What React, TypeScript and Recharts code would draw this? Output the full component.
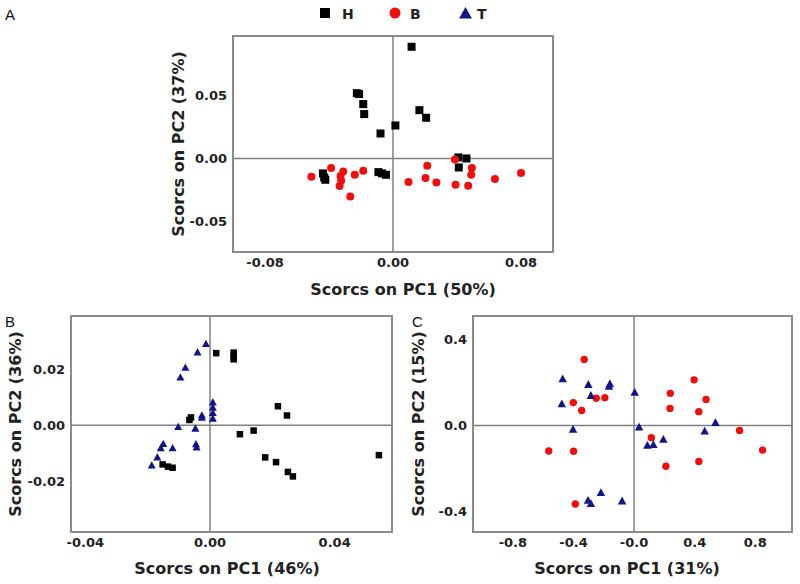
import React from "react";
import { ReferenceArea, ReferenceLine, Scatter, ScatterChart, XAxis, YAxis } from "recharts";

// legend groups
const groups = ["H", "B", "T"];

// panel A: PC1 / PC2 scores, H and B
const aH_pc1 = [0.0116, -0.0226, -0.0212, -0.0186, -0.018, 0.0165, 0.0207, 0.0015, -0.0078, 0.0408, 0.0459, 0.0411, -0.0438, -0.043, -0.0423, -0.0091, -0.0068, -0.0044];
const aH_pc2 = [0.0881, 0.0515, 0.0508, 0.0429, 0.035, 0.0381, 0.0321, 0.026, 0.0197, 0.0008, 0, -0.0071, -0.0118, -0.015, -0.0168, -0.0108, -0.0118, -0.0129];
const aB_pc1 = [-0.051, -0.0387, -0.0328, -0.0311, -0.0324, -0.0334, -0.0267, -0.0239, -0.0186, 0.0097, 0.0203, 0.0214, 0.0271, 0.0387, 0.0391, 0.047, 0.0493, 0.0489, 0.0637, 0.08];
const aB_pc2 = [-0.0144, -0.0076, -0.0139, -0.0102, -0.0176, -0.0217, -0.0301, -0.0128, -0.0097, -0.0186, -0.0155, -0.0058, -0.0189, -0.0008, -0.0207, -0.0215, -0.0076, -0.0128, -0.0162, -0.0115];

// panel B: H and T
const bT_pc1 = [-0.0013, -0.004, -0.0079, -0.0095, 0.0009, 0.0009, 0.0009, 0.0009, -0.0026, -0.0026, -0.0102, -0.0047, -0.0045, -0.0043, -0.015, -0.0158, -0.012, -0.0169, -0.0187];
const bT_pc2 = [0.0292, 0.0262, 0.0207, 0.0172, 0.0083, 0.0064, 0.0045, 0.0025, 0.0036, 0.0028, -0.0005, -0.0011, -0.0067, -0.0078, -0.0066, -0.0081, -0.0081, -0.0114, -0.0143];
const bH_pc1 = [0.002, 0.0076, 0.0076, 0.0076, 0.0218, 0.0247, -0.0066, -0.0061, 0.0096, 0.014, 0.0177, 0.0212, 0.025, 0.0266, 0.0542, -0.0152, -0.0135, -0.012];
const bH_pc2 = [0.0258, 0.026, 0.0248, 0.0236, 0.0068, 0.0035, 0.0019, 0.0028, -0.0032, -0.0019, -0.0115, -0.0132, -0.0167, -0.0183, -0.0107, -0.014, -0.0148, -0.0152];

// panel C: B and T
const cB_pc1 = [-0.329, -0.401, -0.346, -0.25, -0.193, -0.563, -0.399, -0.388, 0.114, 0.21, 0.239, 0.237, 0.396, 0.475, 0.427, 0.427, 0.696, 0.848];
const cB_pc2 = [0.308, 0.107, 0.07, 0.127, 0.13, -0.118, -0.119, -0.365, -0.056, -0.189, 0.15, 0.08, 0.213, 0.122, 0.065, -0.167, -0.023, -0.114];
const cT_pc1 = [-0.471, -0.302, -0.16, -0.166, -0.285, -0.477, 0.004, -0.403, 0.033, 0.088, 0.127, 0.193, 0.466, 0.537, -0.219, -0.304, -0.285, -0.079];
const cT_pc2 = [0.218, 0.192, 0.195, 0.183, 0.141, 0.102, 0.155, -0.017, -0.006, -0.091, -0.088, -0.063, -0.025, 0.015, -0.311, -0.347, -0.362, -0.35];

// ticks
const aXTicks = [-0.08, 0, 0.08];
const aXLabels = ["-0.08", "0.00", "0.08"];
const aYTicks = [-0.05, 0, 0.05];
const aYLabels = ["-0.05", "0.00", "0.05"];
const bXTicks = [-0.04, 0, 0.04];
const bXLabels = ["-0.04", "0.00", "0.04"];
const bYTicks = [-0.02, 0, 0.02];
const bYLabels = ["-0.02", "0.00", "0.02"];
const cXTicks = [-0.8, -0.4, 0, 0.4, 0.8];
const cXLabels = ["-0.8", "-0.4", "-0.0", "0.4", "0.8"];
const cYTicks = [-0.4, 0, 0.4];
const cYLabels = ["-0.4", "0.0", "0.4"];

const toPoints = (xs: number[], ys: number[]) => xs.map((x, i) => ({ x, y: ys[i] }));

const FONT = "'DejaVu Sans', sans-serif";
const BORDER = "#8c8c8c";
const RED = "#f20d0d";
const NAVY = "#14148a";

const square = (s: number) => (p: any) => (
  <rect x={p.cx - s / 2} y={p.cy - s / 2} width={s} height={s} fill="#000" />
);
const dot = (r: number) => (p: any) => <circle cx={p.cx} cy={p.cy} r={r} fill={RED} />;
const tri = (s: number) => (p: any) => (
  <polygon
    points={`${p.cx - s / 2},${p.cy + s * 0.42} ${p.cx + s / 2},${p.cy + s * 0.42} ${p.cx},${p.cy - s * 0.5}`}
    fill={NAVY}
  />
);

const Panel = ({
  left, top, width, height, plotTop, yw, xh,
  xDomain, yDomain, xTicks, xLabels, yTicks, yLabels,
  xTitle, yTitle, xTitleAt, yTitleX, series,
}: any) => (
  <div style={{ position: "absolute", left, top }}>
    <ScatterChart width={width} height={height} margin={{ top: plotTop, right: 5, left: 0, bottom: 0 }}>
      <XAxis
        type="number"
        dataKey="x"
        domain={xDomain}
        ticks={xTicks}
        allowDataOverflow
        axisLine={false}
        tickLine={false}
        tickSize={4}
        tickMargin={2}
        height={xh}
        tickFormatter={(v: number) => xLabels[xTicks.indexOf(v)] ?? ""}
        tick={{ fontFamily: FONT, fontWeight: "bold", fontSize: 13, fill: "#222" }}
        label={() => (
          <text
            x={xTitleAt[0] - left}
            y={xTitleAt[1] - top}
            textAnchor="middle"
            dominantBaseline="central"
            fontFamily={FONT}
            fontWeight="bold"
            fontSize={16}
            fill="#222"
          >
            {xTitle}
          </text>
        )}
      />
      <YAxis
        type="number"
        dataKey="y"
        domain={yDomain}
        ticks={yTicks}
        allowDataOverflow
        axisLine={false}
        tickLine={false}
        tickSize={3}
        tickMargin={3}
        width={yw}
        tickFormatter={(v: number) => yLabels[yTicks.indexOf(v)] ?? ""}
        tick={{ fontFamily: FONT, fontWeight: "bold", fontSize: 13, fill: "#222" }}
        label={(props: any) => {
          const vb = props.viewBox || {};
          const cy = (vb.y ?? plotTop) + (vb.height ?? 0) / 2;
          const cx = yTitleX - left;
          return (
            <text
              x={cx}
              y={cy}
              transform={`rotate(-90, ${cx}, ${cy})`}
              textAnchor="middle"
              dominantBaseline="central"
              fontFamily={FONT}
              fontWeight="bold"
              fontSize={16}
              fill="#222"
            >
              {yTitle}
            </text>
          );
        }}
      />
      <ReferenceArea x1={xDomain[0]} x2={xDomain[1]} y1={yDomain[0]} y2={yDomain[1]} stroke={BORDER} strokeWidth={2} fill="none" fillOpacity={0} />
      <ReferenceLine x={0} stroke="#808080" strokeWidth={1.5} />
      <ReferenceLine y={0} stroke="#808080" strokeWidth={1.5} />
      {series.map((s: any, i: number) => (
        <Scatter key={i} name={s.name} data={s.data} shape={s.shape} isAnimationActive={false} />
      ))}
    </ScatterChart>
  </div>
);

export default function App() {
  return (
    <div style={{ position: "absolute", left: 0, top: 0, width: 800, height: 584, background: "#fff" }}>
      <Panel
        left={140} top={0} width={418} height={302} plotTop={36} yw={93} xh={50}
        xDomain={[-0.1, 0.1]} yDomain={[-0.0738, 0.0966]}
        xTicks={aXTicks} xLabels={aXLabels} yTicks={aYTicks} yLabels={aYLabels}
        xTitle="Scorcs on PC1 (50%)" yTitle="Scorcs on PC2 (37%)"
        xTitleAt={[403, 289]} yTitleX={178}
        series={[
          { name: "H", data: toPoints(aH_pc1, aH_pc2), shape: square(8) },
          { name: "B", data: toPoints(aB_pc1, aB_pc2), shape: dot(4) },
        ]}
      />
      <Panel
        left={0} top={300} width={397} height={284} plotTop={16} yw={71} xh={52}
        xDomain={[-0.0446, 0.0584]} yDomain={[-0.0382, 0.0391]}
        xTicks={bXTicks} xLabels={bXLabels} yTicks={bYTicks} yLabels={bYLabels}
        xTitle="Scorcs on PC1 (46%)" yTitle="Scorcs on PC2 (36%)"
        xTitleAt={[227, 568]} yTitleX={15}
        series={[
          { name: "H", data: toPoints(bH_pc1, bH_pc2), shape: square(6.5) },
          { name: "T", data: toPoints(bT_pc1, bT_pc2), shape: tri(8) },
        ]}
      />
      <Panel
        left={380} top={300} width={417} height={284} plotTop={16} yw={93} xh={52}
        xDomain={[-1.063, 1.042]} yDomain={[-0.495, 0.51]}
        xTicks={cXTicks} xLabels={cXLabels} yTicks={cYTicks} yLabels={cYLabels}
        xTitle="Scorcs on PC1 (31%)" yTitle="Scorcs on PC2 (15%)"
        xTitleAt={[627, 568]} yTitleX={418}
        series={[
          { name: "B", data: toPoints(cB_pc1, cB_pc2), shape: dot(3.7) },
          { name: "T", data: toPoints(cT_pc1, cT_pc2), shape: tri(8.5) },
        ]}
      />
      <svg width={800} height={584} style={{ position: "absolute", left: 0, top: 0, pointerEvents: "none" }}>
        <g fontFamily="'Liberation Sans', Arial, sans-serif" fontSize={15} fill="#111">
          <text x={5} y={20}>A</text>
          <text x={5} y={327}>B</text>
          <text x={412} y={327}>C</text>
        </g>
        <g fontFamily={FONT} fontWeight="bold" fontSize={14} fill="#222">
          <rect x={320} y={8} width={10} height={10} fill="#000" />
          <text x={342} y={18.5}>{groups[0]}</text>
          <circle cx={395} cy={13} r={5.5} fill={RED} />
          <text x={410} y={18.5}>{groups[1]}</text>
          <polygon points="459,18.5 472,18.5 465.5,7" fill={NAVY} />
          <text x={477} y={18.5}>{groups[2]}</text>
        </g>
      </svg>
    </div>
  );
}
